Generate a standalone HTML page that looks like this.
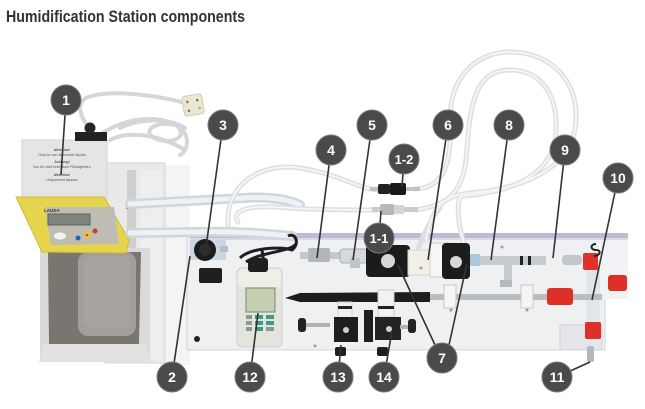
<!DOCTYPE html>
<html><head><meta charset="utf-8"><style>
html,body{margin:0;padding:0;background:#fff;}
svg{display:block;}
</style></head><body>
<svg width="645" height="409" viewBox="0 0 645 409" xmlns="http://www.w3.org/2000/svg">
<rect width="645" height="409" fill="#fff"/>
<text x="6" y="22" font-family="Liberation Sans, sans-serif" font-weight="bold" font-size="16.5" fill="#333" textLength="239" lengthAdjust="spacingAndGlyphs">Humidification Station components</text>

<!-- soft background shading -->
<rect x="160" y="165" width="30" height="200" fill="#f4f4f4"/>

<!-- power cable -->
<g fill="none" stroke="#d3d7da" stroke-width="4" stroke-linecap="round">
<path d="M90,128 C80,118 76,104 86,98 C110,88 160,96 190,104"/>
<path d="M100,135 C120,120 150,115 170,122 C190,130 180,145 160,140 C140,135 150,120 175,125 C190,130 190,150 180,155"/>
<path d="M110,140 C130,130 160,135 185,150"/>
<path d="M120,128 C140,118 170,118 185,128"/>
</g>
<!-- plug -->
<g transform="rotate(-10 193 105)">
<rect x="183" y="95" width="20" height="20" rx="3" fill="#ece7d5" stroke="#cfc8b2"/>
<circle cx="188" cy="101" r="1.3" fill="#8a7a40"/><circle cx="198" cy="101" r="1.3" fill="#8a7a40"/>
<circle cx="188" cy="110" r="1.3" fill="#8a7a40"/><circle cx="199" cy="109" r="1.3" fill="#c9a83a"/>
</g>

<!-- bath housing back -->
<rect x="105" y="163" width="60" height="200" fill="#e9e9e9" stroke="#d6d6d6"/>
<rect x="127" y="170" width="9" height="80" fill="#cfcfcf"/>
<rect x="140" y="170" width="22" height="190" fill="#eeeeee"/>
<!-- control box -->
<rect x="22" y="140" width="85" height="60" fill="#e5e5e5" stroke="#d2d2d2"/>
<rect x="75" y="132" width="32" height="9" fill="#222"/>
<circle cx="90" cy="128" r="5.5" fill="#262626"/>
<g font-family="Liberation Sans, sans-serif" font-size="3.5" fill="#555" text-anchor="middle">
<text x="62" y="151" font-weight="bold">Attention!</text>
<text x="62" y="156">Only for non-flammable liquids</text>
<text x="62" y="163" font-weight="bold">Achtung!</text>
<text x="62" y="168">Nur für nicht brennbare Flüssigkeiten</text>
<text x="62" y="176" font-weight="bold">Attention!</text>
<text x="62" y="181">Uniquement liquides</text>
</g>

<!-- bath basin -->
<rect x="40" y="248" width="110" height="114" fill="#dadada"/>
<path d="M48,252 L141,252 L139,342 Q139,352 129,352 L58,352 Q49,352 49,342 Z" fill="#7a756f"/>
<rect x="78" y="252" width="58" height="84" rx="10" fill="#a29e99"/>
<rect x="84" y="256" width="46" height="72" rx="8" fill="#a8a49f"/>
<polygon points="44,344 146,344 151,362 39,362" fill="#e2e2e2"/>

<!-- yellow panel -->
<polygon points="16,197 104,197 129,240 126,253 42,252" fill="#e5d44c" stroke="#cdbc35"/>
<polygon points="45,207 114,207 119,244 51,245" fill="#bebdb4"/>
<rect x="48" y="214" width="42" height="11" fill="#7f847f" stroke="#5e625e"/>
<text x="44" y="212" font-family="Liberation Sans, sans-serif" font-size="4.5" font-weight="bold" fill="#333">LAUDA</text>
<ellipse cx="60" cy="236" rx="6" ry="3.5" fill="#f2f2f2"/>
<circle cx="78" cy="238" r="2.5" fill="#2d5fb4"/>
<circle cx="87" cy="235" r="3.5" fill="#e6c931"/>
<circle cx="87" cy="235" r="1.3" fill="#d23a2a"/>
<circle cx="95" cy="231" r="2.5" fill="#d23a2a"/>

<!-- brass fittings -->
<rect x="126" y="202" width="8" height="7" fill="#b99a4e"/>
<rect x="126" y="230" width="8" height="7" fill="#b99a4e"/>

<!-- main panel -->
<rect x="187" y="236" width="418" height="114" fill="#eceef1" stroke="#d2d5da"/>
<rect x="188" y="239" width="416" height="110" fill="#eef0f2"/>
<rect x="598" y="239" width="30" height="60" fill="#f1f2f5"/>
<rect x="190" y="233" width="438" height="6" fill="#bcbbd4"/>
<rect x="190" y="238" width="438" height="2" fill="#d8d8e6"/>
<circle cx="197" cy="339" r="3" fill="#222"/>

<!-- big tubes from bath -->
<g fill="none" stroke-linecap="round">
<path d="M130,204 L245,198 C270,196 290,200 300,205" stroke="#cfd7db" stroke-width="10"/>
<path d="M130,204 L245,198 C270,196 290,200 300,205" stroke="#eef2f4" stroke-width="5"/>
<path d="M130,233 L200,232 C240,231 270,234 292,236" stroke="#cfd7db" stroke-width="10"/>
<path d="M130,233 L200,232 C240,231 270,234 292,236" stroke="#eef2f4" stroke-width="5"/>
</g>

<!-- thin loop tubes -->
<g fill="none" stroke-linecap="round">
<g stroke="#dcdfe2" stroke-width="5">
<path d="M228,225 C225,185 260,162 300,168 C340,174 360,190 380,190"/>
<path d="M415,189 C440,188 452,170 450,125 C448,75 478,52 510,52 C552,52 578,82 576,120 C574,165 530,188 470,193 C445,196 432,205 426,240"/>
<path d="M415,210 C445,206 462,195 466,160 C470,110 472,70 510,70 C545,70 558,100 556,132 C554,170 520,192 462,196 C455,200 458,230 468,255"/>
<path d="M238,222 C230,210 250,204 290,208 C320,210 350,210 378,210"/>
<path d="M440,208 C430,220 420,240 416,258"/>
</g>
<g stroke="#f4f5f6" stroke-width="2">
<path d="M228,225 C225,185 260,162 300,168 C340,174 360,190 380,190"/>
<path d="M415,189 C440,188 452,170 450,125 C448,75 478,52 510,52 C552,52 578,82 576,120 C574,165 530,188 470,193 C445,196 432,205 426,240"/>
<path d="M415,210 C445,206 462,195 466,160 C470,110 472,70 510,70 C545,70 558,100 556,132 C554,170 520,192 462,196 C455,200 458,230 468,255"/>
<path d="M238,222 C230,210 250,204 290,208 C320,210 350,210 378,210"/>
</g>
</g>
<!-- connectors 1-2 / 1-1 -->
<rect x="370" y="187" width="50" height="4" fill="#bfc3c6"/>
<rect x="378" y="184" width="12" height="10" rx="2" fill="#222"/>
<rect x="390" y="183" width="16" height="12" rx="2" fill="#1a1a1a"/>
<rect x="372" y="207" width="46" height="5" fill="#c9ccce"/>
<rect x="380" y="204" width="14" height="11" rx="2" fill="#b4b9bc"/>
<rect x="394" y="205" width="10" height="9" fill="#d2d6d8"/>

<!-- black cable coil -->
<g fill="none" stroke="#1e1e1e" stroke-width="3">
<path d="M240,258 C250,248 280,246 292,250 C300,244 296,232 288,236"/>
<path d="M246,262 C260,252 290,252 296,244"/>
<path d="M262,250 L265,270"/>
</g>

<!-- part 3 regulator -->
<rect x="190" y="240" width="36" height="20" fill="#cbd7e0"/>
<circle cx="205" cy="250" r="11" fill="#1c1c1c"/>
<circle cx="205" cy="250" r="6" fill="#2c2c2c"/>
<rect x="199" y="268" width="23" height="15" rx="2" fill="#1f1f1f"/>
<rect x="220" y="246" width="8" height="6" fill="#b8bcbf"/>

<!-- measuring device 12 -->
<rect x="237" y="268" width="45" height="79" rx="5" fill="#e3e5dd" stroke="#cfd2c8"/>
<rect x="238" y="269" width="43" height="18" rx="4" fill="#eef0e8"/>
<rect x="248" y="258" width="20" height="14" rx="3" fill="#1f1f1f"/>
<rect x="246" y="288" width="29" height="24" fill="#c5ceaf" stroke="#7d8479"/>
<rect x="246" y="315" width="6" height="4" fill="#8a9a98"/>
<rect x="255" y="315" width="8" height="4" fill="#3e9a85"/>
<rect x="266" y="315" width="8" height="4" fill="#3e9a85"/>
<rect x="246" y="321" width="6" height="4" fill="#8a9a98"/>
<rect x="255" y="321" width="8" height="4" fill="#3e9a85"/>
<rect x="266" y="321" width="8" height="4" fill="#3e9a85"/>
<rect x="246" y="327" width="6" height="4" fill="#8a9a98"/>
<rect x="255" y="327" width="8" height="4" fill="#3e9a85"/>
<rect x="266" y="327" width="8" height="4" fill="#8a9a98"/>

<!-- part 4/5 fittings -->
<rect x="300" y="252" width="60" height="7" fill="#c6c9cc"/>
<rect x="308" y="248" width="22" height="14" rx="2" fill="#b3b7bb"/>
<rect x="340" y="249" width="28" height="14" rx="3" fill="#d6d9dc" stroke="#aab0b4"/>
<rect x="350" y="258" width="10" height="10" fill="#c0c4c7"/>
<!-- part 7 -->
<rect x="366" y="245" width="44" height="32" rx="4" fill="#1b1b1b"/>
<circle cx="388" cy="261" r="7" fill="#d5d8d8"/>
<rect x="408" y="250" width="30" height="25" fill="#f2f0e6" stroke="#d8d5c6"/>
<rect x="430" y="243" width="20" height="34" fill="#f6f6f6" stroke="#d0d0d0"/>
<rect x="442" y="243" width="28" height="36" rx="4" fill="#1c1c1c"/>
<circle cx="456" cy="262" r="6" fill="#d5d8d8"/>
<rect x="470" y="254" width="10" height="12" fill="#a9c9da"/>
<rect x="480" y="256" width="66" height="9" fill="#c7cace"/>
<rect x="504" y="262" width="8" height="20" fill="#c7cace"/>
<rect x="500" y="280" width="12" height="7" fill="#b5b9bd"/>
<rect x="520" y="256" width="3" height="9" fill="#222"/>
<rect x="528" y="256" width="3" height="9" fill="#222"/>
<!-- clear vertical tube + block 11 (behind caps) -->
<rect x="586" y="265" width="14" height="80" fill="#e2e5ea"/>
<rect x="560" y="325" width="42" height="25" fill="#e4e6ea" stroke="#cfd2d6"/>
<rect x="587" y="346" width="7" height="16" rx="2" fill="#b4b8bc"/>
<!-- part 9/10 area -->
<rect x="562" y="255" width="20" height="10" rx="4" fill="#c3c6ca"/>
<rect x="583" y="253" width="15" height="17" rx="2" fill="#e0322a"/>
<path d="M596,244 C590,244 590,250 596,250 C602,250 600,256 594,256" fill="none" stroke="#222" stroke-width="2"/>

<!-- black bar + rod -->
<path d="M285,298 L300,293 L430,292 L430,302 L300,302 Z" fill="#1d1d1d"/>
<rect x="430" y="294" width="172" height="6" fill="#b9bcc0"/>
<rect x="444" y="285" width="12" height="23" fill="#f5f5f5" stroke="#c8c8c8"/>
<rect x="521" y="285" width="12" height="23" fill="#f5f5f5" stroke="#c8c8c8"/>
<rect x="547" y="288" width="26" height="17" rx="3" fill="#df3027"/>
<rect x="608" y="275" width="19" height="16" rx="3" fill="#df3027"/>
<rect x="585" y="322" width="16" height="17" rx="2" fill="#df3027"/>

<!-- valves -->
<rect x="300" y="323" width="30" height="4" fill="#b0b3b6"/>
<rect x="298" y="318" width="8" height="14" rx="3" fill="#222"/>
<rect x="338" y="302" width="14" height="16" fill="#f2f2f2" stroke="#ccc"/>
<rect x="338" y="306" width="14" height="3" fill="#222"/>
<rect x="334" y="317" width="24" height="25" fill="#1e1e1e"/>
<circle cx="346" cy="330" r="3" fill="#d0d0d0"/>
<rect x="335" y="347" width="11" height="9" rx="2" fill="#1e1e1e"/>
<rect x="364" y="310" width="9" height="32" fill="#1e1e1e"/>
<rect x="378" y="290" width="16" height="27" fill="#f2f2f2" stroke="#ccc"/>
<rect x="378" y="306" width="16" height="3" fill="#222"/>
<rect x="375" y="317" width="26" height="23" fill="#232323"/>
<circle cx="389" cy="329" r="3" fill="#d0d0d0"/>
<rect x="400" y="325" width="10" height="4" fill="#b0b3b6"/>
<rect x="408" y="319" width="8" height="14" rx="3" fill="#222"/>
<rect x="377" y="347" width="11" height="9" rx="2" fill="#1e1e1e"/>

<!-- screws -->
<g fill="#9a9ea3">
<circle cx="315" cy="346" r="1.5"/><circle cx="421" cy="268" r="1.5"/><circle cx="502" cy="247" r="1.5"/>
<circle cx="451" cy="310" r="1.5"/><circle cx="527" cy="310" r="1.5"/>
</g>

<!-- leader lines -->
<g stroke="#333" stroke-width="1.6" fill="none">
<line x1="66" y1="100" x2="61" y2="175"/>
<line x1="223" y1="125" x2="206" y2="247"/>
<line x1="172" y1="377" x2="190" y2="256"/>
<line x1="250" y1="377" x2="258" y2="313"/>
<line x1="331" y1="150" x2="317" y2="258"/>
<line x1="372" y1="125" x2="353" y2="260"/>
<line x1="404" y1="159" x2="402" y2="187"/>
<line x1="379" y1="238" x2="381" y2="211"/>
<line x1="448" y1="125" x2="428" y2="260"/>
<line x1="509" y1="125" x2="491" y2="260"/>
<line x1="565" y1="150" x2="553" y2="258"/>
<line x1="618" y1="178" x2="592" y2="300"/>
<line x1="435" y1="345" x2="398" y2="265"/>
<line x1="449" y1="345" x2="467" y2="263"/>
<line x1="338" y1="377" x2="341" y2="345"/>
<line x1="384" y1="377" x2="392" y2="331"/>
<line x1="557" y1="377" x2="590" y2="362"/>
</g>

<!-- number badges -->
<g fill="#4a4a4a" stroke="#7a7a7a" stroke-width="1">
<circle cx="66" cy="100" r="15"/>
<circle cx="223" cy="125" r="15"/>
<circle cx="331" cy="150" r="15"/>
<circle cx="372" cy="125" r="15"/>
<circle cx="404" cy="159" r="15"/>
<circle cx="448" cy="125" r="15"/>
<circle cx="509" cy="125" r="15"/>
<circle cx="565" cy="150" r="15"/>
<circle cx="618" cy="178" r="15"/>
<circle cx="379" cy="238" r="15"/>
<circle cx="172" cy="377" r="15"/>
<circle cx="250" cy="377" r="15"/>
<circle cx="338" cy="377" r="15"/>
<circle cx="384" cy="377" r="15"/>
<circle cx="442" cy="358" r="15"/>
<circle cx="557" cy="377" r="15"/>
</g>
<g fill="#fff" font-family="Liberation Sans, sans-serif" font-weight="bold" font-size="14" text-anchor="middle">
<text x="66" y="105">1</text>
<text x="223" y="130">3</text>
<text x="331" y="155">4</text>
<text x="372" y="130">5</text>
<text x="404" y="164" font-size="13">1-2</text>
<text x="448" y="130">6</text>
<text x="509" y="130">8</text>
<text x="565" y="155">9</text>
<text x="618" y="183">10</text>
<text x="379" y="243" font-size="13">1-1</text>
<text x="172" y="382">2</text>
<text x="250" y="382">12</text>
<text x="338" y="382">13</text>
<text x="384" y="382">14</text>
<text x="442" y="363">7</text>
<text x="557" y="382">11</text>
</g>
</svg>
</body></html>
